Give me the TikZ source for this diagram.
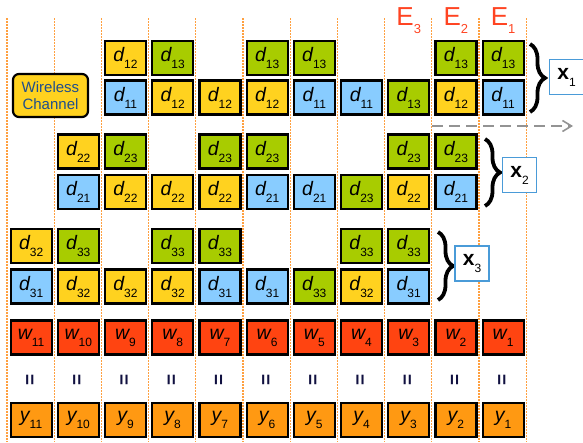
\documentclass[tikz,border=0pt]{standalone}
\usepackage{fontspec}
\setmainfont{Liberation Sans}
\usetikzlibrary{decorations.pathreplacing,arrows.meta}
\definecolor{cY}{HTML}{FFD21F}
\definecolor{cG}{HTML}{A8CC00}
\definecolor{cB}{HTML}{88CCFF}
\definecolor{cW}{HTML}{FF4411}
\definecolor{cO}{HTML}{FF9912}
\definecolor{cLine}{HTML}{FFA040}
\definecolor{cE}{HTML}{FF4422}
\definecolor{cTxt}{HTML}{1F4E8C}
\definecolor{cXb}{HTML}{4A9BD8}
\definecolor{cEq}{HTML}{101040}
\newcommand{\cellsym}[2]{{\fontsize{19.5}{19.5}\selectfont\itshape #1}\raisebox{-7pt}{\fontsize{12}{12}\selectfont #2}}
\tikzset{
  cell/.style={draw=black, line width=2.2pt, minimum width=41pt, minimum height=34pt, inner sep=0pt},
  colline/.style={cLine, line width=1.2pt, dash pattern=on 1.5pt off 1.5pt},
  xbox/.style={draw=cXb, line width=1.3pt, fill=white, minimum width=34pt, minimum height=35pt, inner sep=0pt},
  bracestyle/.style={decorate, decoration={brace, amplitude=15pt}, line width=3.8pt},
  eqsign/.style={rotate=90, text=cEq, font=\bfseries\fontsize{19}{19}\selectfont, inner sep=0pt},
  elabel/.style={text=cE, inner sep=0pt, anchor=base},
}
\begin{document}
\begin{tikzpicture}[x=1pt,y=-1pt]
\useasboundingbox (0,0) rectangle (583,442);
% column separators
\foreach \k in {0,...,11}{
  \draw[colline] ({7+47.2*\k},18) -- ({7+47.2*\k},442);
}
% E labels
\foreach \c/\n in {9/3,10/2,11/1}{
  \node[elabel] (E\n) at ({7+47.2*(\c-0.5)+0.5},25) {\fontsize{26}{26}\selectfont E\raisebox{-8pt}{\fontsize{13}{13}\selectfont\n}};
}
% wireless channel
\node[draw=black, line width=2.2pt, fill=cY, rounded corners=6pt, minimum width=75pt, minimum height=43pt, align=center, text=cTxt, font=\fontsize{15}{17}\selectfont, inner sep=0pt] (wc) at (50.5,95.5) {Wireless\\Channel};
% cells
\foreach \r/\yy/\lst in {
  1a/58/{3/cY/d/12,4/cG/d/13,6/cG/d/13,7/cG/d/13,10/cG/d/13,11/cG/d/13},
  1b/97.5/{3/cB/d/11,4/cY/d/12,5/cY/d/12,6/cY/d/12,7/cB/d/11,8/cB/d/11,9/cG/d/13,10/cY/d/12,11/cB/d/11},
  2a/151.5/{2/cY/d/22,3/cG/d/23,5/cG/d/23,6/cG/d/23,9/cG/d/23,10/cG/d/23},
  2b/192/{2/cB/d/21,3/cY/d/22,4/cY/d/22,5/cY/d/22,6/cB/d/21,7/cB/d/21,8/cG/d/23,9/cY/d/22,10/cB/d/21},
  3a/246/{1/cY/d/32,2/cG/d/33,4/cG/d/33,5/cG/d/33,8/cG/d/33,9/cG/d/33},
  3b/286.5/{1/cB/d/31,2/cY/d/32,3/cY/d/32,4/cY/d/32,5/cB/d/31,6/cB/d/31,7/cG/d/33,8/cY/d/32,9/cB/d/31}}{
  \foreach \c/\f/\s/\i in \lst{
    \node[cell, fill=\f] (r\r-\c) at ({7+47.2*(\c-0.5)+0.5},\yy) {\cellsym{\s}{\i}};
  }
}
% w, equal, y rows
\foreach \c in {1,...,11}{
  \pgfmathtruncatemacro{\idx}{12-\c}
  \node[cell, fill=cW] (w-\c) at ({7+47.2*(\c-0.5)+0.5},337.5) {\cellsym{w}{\idx}};
  \node[eqsign] (eq-\c) at ({7+47.2*(\c-0.5)+0.5},380) {=};
  \node[cell, fill=cO] (y-\c) at ({7+47.2*(\c-0.5)+0.5},420) {\cellsym{y}{\idx}};
}
% braces
\coordinate (b1s) at (530,44);  \coordinate (b1e) at (530,112);
\coordinate (b2s) at (485,139); \coordinate (b2e) at (485,206);
\coordinate (b3s) at (438,232); \coordinate (b3e) at (438,300);
\draw[bracestyle] (b1s) -- (b1e);
\draw[bracestyle] (b2s) -- (b2e);
\draw[bracestyle] (b3s) -- (b3e);
% x boxes
\node[xbox] (x1) at (566.5,77) {\fontsize{21}{21}\selectfont\bfseries x\raisebox{-7pt}{\fontsize{12}{12}\selectfont\mdseries 1}};
\node[xbox] (x2) at (519.5,175) {\fontsize{21}{21}\selectfont\bfseries x\raisebox{-7pt}{\fontsize{12}{12}\selectfont\mdseries 2}};
\node[xbox] (x3) at (472,263.5) {\fontsize{21}{21}\selectfont\bfseries x\raisebox{-7pt}{\fontsize{12}{12}\selectfont\mdseries 3}};
% dashed arrow
\coordinate (da1) at (432,126);
\coordinate (da2) at (573,126);
\draw[gray!85, line width=1.6pt, dash pattern=on 11pt off 6pt, -{Straight Barb[length=9pt,width=11pt,line width=1.6pt]}] (da1) -- (da2);
\end{tikzpicture}
\end{document}
